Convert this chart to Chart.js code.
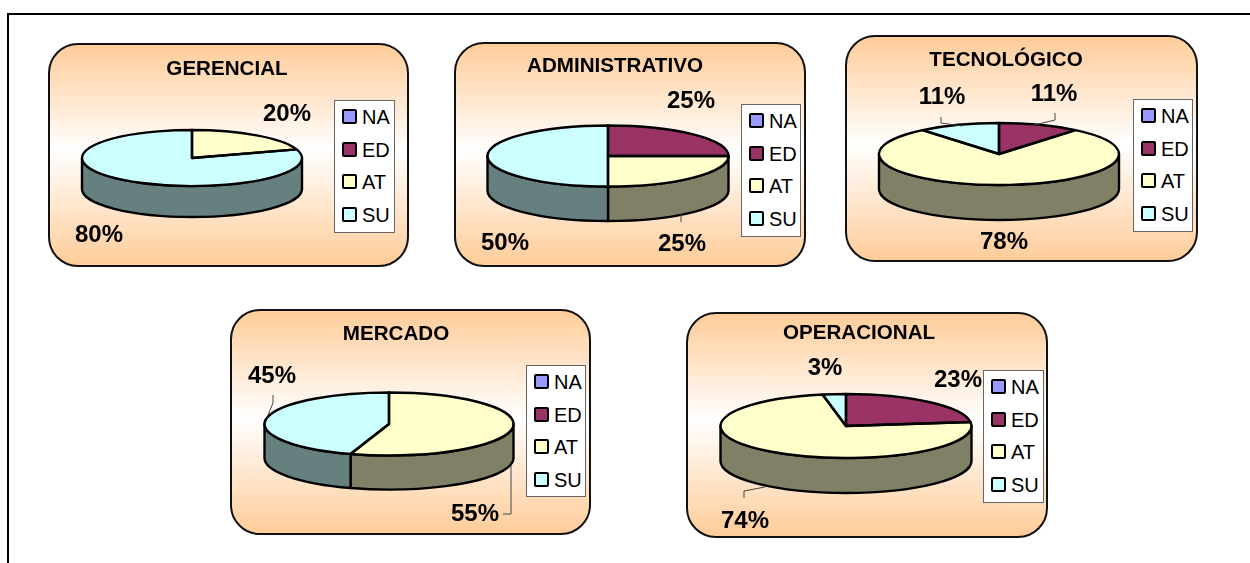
<!DOCTYPE html>
<html>
<head>
<meta charset="utf-8">
<title>Gráficos por área</title>
<script src="https://cdn.jsdelivr.net/npm/chart.js@4/dist/chart.umd.min.js"></script>
<style>
    html, body { margin: 0; padding: 0; background: #fff; }
    body { position: relative; width: 1250px; height: 563px; overflow: hidden; font-family: "Liberation Sans", Arial, sans-serif; color: #000; filter: blur(0.35px); }
    .marco { position: absolute; left: 7px; top: 13px; right: -4px; bottom: -4px; border-top: 2px solid #000; border-left: 2px solid #000; }
    .panel { position: absolute; box-sizing: border-box; border: 2px solid #111; border-radius: 30px;
             background: linear-gradient(#ffcc99 0%, #ffffff 48%, #ffcc99 100%); }
    canvas { position: absolute; }
    .titulo, .valor { position: absolute; transform: translate(-50%, -50%); font-weight: bold; white-space: nowrap; line-height: 1; }
    .titulo { font-size: 20.6px; }
    .valor { font-size: 24px; }
    .leyenda { position: absolute; box-sizing: border-box; border: 1px solid #666; background: #fff; }
    .item { position: absolute; left: 7px; height: 22px; font-size: 20px; line-height: 22px; padding-left: 20px; }
    .item i { position: absolute; left: 0; top: 3px; width: 15px; height: 15px; box-sizing: border-box; border: 2px solid #000; border-radius: 2px; }
</style>
</head>
<body>
<div class="marco"></div>
<script>
    // DATOS
    const categorias = ['NA', 'ED', 'AT', 'SU'];
    const nombres = ['GERENCIAL', 'ADMINISTRATIVO', 'TECNOLÓGICO', 'MERCADO', 'OPERACIONAL'];

    const gerencial = [0, 0, 20, 80];
    const administrativo = [0, 25, 25, 50];
    const tecnologico = [0, 11, 78, 11];
    const mercado = [0, 0, 55, 45];
    const operacional = [0, 23, 74, 3];
    const series = [gerencial, administrativo, tecnologico, mercado, operacional];

    const colores = ['#9999ff', '#993366', '#ffffcc', '#ccffff'];
    const coloresLado = ['#4d4d80', '#4d1a33', '#808066', '#668080'];

    // POSICIONES (x, y de pagina)
    const paneles = [
        { x: 48, y: 43, w: 361, h: 224 },
        { x: 454, y: 42, w: 352, h: 225 },
        { x: 845, y: 35, w: 353, h: 227 },
        { x: 230, y: 309, w: 361, h: 226 },
        { x: 686, y: 312, w: 362, h: 226 }
    ];
    const tortas = [
        { cx: 192, cy: 158, rx: 110, ry: 28, alto: 31 },
        { cx: 608, cy: 156, rx: 120.5, ry: 30.5, alto: 34.5 },
        { cx: 999, cy: 154, rx: 120, ry: 31, alto: 35 },
        { cx: 389, cy: 424, rx: 124.5, ry: 31.5, alto: 34 },
        { cx: 846, cy: 426, rx: 125.5, ry: 32, alto: 35 }
    ];
    const leyendas = [
        { x: 334, y: 100, w: 61, h: 133 },
        { x: 741, y: 104, w: 60, h: 133 },
        { x: 1133, y: 99, w: 60, h: 133 },
        { x: 526, y: 365, w: 60, h: 132 },
        { x: 983, y: 370, w: 61, h: 133 }
    ];
    const titulos = [[227, 68], [615, 65], [1006, 59], [396, 333], [859, 332]];
    // [indice de categoria, x, y]
    const etiquetas = [
        [[2, 287, 113], [3, 99, 234]],
        [[1, 691, 100], [2, 682, 243], [3, 505, 242]],
        [[1, 1054, 93], [2, 1004, 241], [3, 942, 96]],
        [[2, 475, 513], [3, 272, 375]],
        [[1, 958, 379], [2, 745, 520], [3, 825, 367]]
    ];
    const guias = [
        [],
        [[[681, 214], [681, 222]]],
        [[[1055, 113], [1055, 120], [1030, 126]], [[941, 117], [941, 123], [962, 126]]],
        [[[273, 395], [273, 403], [268, 415]], [[511, 465], [511, 514], [503, 514]]],
        [[[744, 498], [744, 491], [765, 487]]]
    ];

    // ----------------------------
    // TORTA CON PERSPECTIVA
    function plugin3d(torta, panel, lineas) {
        const cx = torta.cx - panel.x;
        const cy = torta.cy - panel.y;
        const { rx, ry, alto } = torta;
        return {
            id: 'torta3d',
            beforeDatasetsDraw(chart) {
                const ctx = chart.ctx;
                const arcos = chart.getDatasetMeta(0).data;

                ctx.save();
                ctx.lineWidth = 2.4;
                ctx.lineJoin = 'round';
                ctx.strokeStyle = '#000';
                arcos.forEach((arco, i) => {
                    const a0 = Math.max(arco.startAngle, 0);
                    const a1 = Math.min(arco.endAngle, Math.PI);
                    if (a1 <= a0) return;
                    ctx.beginPath();
                    ctx.ellipse(cx, cy, rx, ry, 0, a0, a1);
                    ctx.ellipse(cx, cy + alto, rx, ry, 0, a1, a0, true);
                    ctx.closePath();
                    ctx.fillStyle = coloresLado[i];
                    ctx.fill();
                    ctx.stroke();
                });
                ctx.restore();

                // la cara de arriba la dibuja Chart.js, achatada
                const ref = arcos[0];
                const r = ref.outerRadius;
                ctx.save();
                ctx.translate(cx, cy);
                ctx.scale(rx / r, ry / r);
                ctx.translate(-ref.x, -ref.y);
            },
            afterDatasetsDraw(chart) {
                const ctx = chart.ctx;
                ctx.restore();

                ctx.save();
                ctx.lineWidth = 2.4;
                ctx.lineJoin = 'round';
                ctx.strokeStyle = '#000';
                chart.getDatasetMeta(0).data.forEach(arco => {
                    if (arco.endAngle - arco.startAngle <= 0) return;
                    ctx.beginPath();
                    ctx.moveTo(cx, cy);
                    ctx.ellipse(cx, cy, rx, ry, 0, arco.startAngle, arco.endAngle);
                    ctx.closePath();
                    ctx.stroke();
                });

                ctx.lineWidth = 1;
                ctx.strokeStyle = '#444';
                lineas.forEach(linea => {
                    ctx.beginPath();
                    linea.forEach((p, j) => {
                        if (j === 0) ctx.moveTo(p[0] - panel.x, p[1] - panel.y);
                        else ctx.lineTo(p[0] - panel.x, p[1] - panel.y);
                    });
                    ctx.stroke();
                });
                ctx.restore();
            }
        };
    }

    function agregarTexto(clase, texto, x, y) {
        const div = document.createElement('div');
        div.className = clase;
        div.textContent = texto;
        div.style.left = x + 'px';
        div.style.top = y + 'px';
        document.body.appendChild(div);
    }

    function agregarLeyenda(caja) {
        const div = document.createElement('div');
        div.className = 'leyenda';
        div.style.left = caja.x + 'px';
        div.style.top = caja.y + 'px';
        div.style.width = caja.w + 'px';
        div.style.height = caja.h + 'px';
        categorias.forEach((cat, i) => {
            const item = document.createElement('div');
            item.className = 'item';
            item.style.top = (5 + i * 32.5) + 'px';
            item.innerHTML = `<i style="background:${colores[i]}"></i>${cat}`;
            div.appendChild(item);
        });
        document.body.appendChild(div);
    }

    nombres.forEach((nombre, n) => {
        const panel = paneles[n];

        const fondo = document.createElement('div');
        fondo.className = 'panel';
        fondo.style.left = panel.x + 'px';
        fondo.style.top = panel.y + 'px';
        fondo.style.width = panel.w + 'px';
        fondo.style.height = panel.h + 'px';
        document.body.appendChild(fondo);

        const canvas = document.createElement('canvas');
        canvas.width = panel.w;
        canvas.height = panel.h;
        canvas.style.left = panel.x + 'px';
        canvas.style.top = panel.y + 'px';
        document.body.appendChild(canvas);

        new Chart(canvas.getContext('2d'), {
            type: 'pie',
            data: {
                labels: categorias,
                datasets: [{ data: series[n], backgroundColor: colores, borderWidth: 0 }]
            },
            options: {
                responsive: false,
                animation: false,
                events: [],
                plugins: { legend: { display: false }, tooltip: { enabled: false } }
            },
            plugins: [plugin3d(tortas[n], panel, guias[n])]
        });

        agregarTexto('titulo', nombre, titulos[n][0], titulos[n][1]);
        agregarLeyenda(leyendas[n]);
        etiquetas[n].forEach(e => {
            agregarTexto('valor', series[n][e[0]] + '%', e[1], e[2]);
        });
    });
</script>
</body>
</html>
